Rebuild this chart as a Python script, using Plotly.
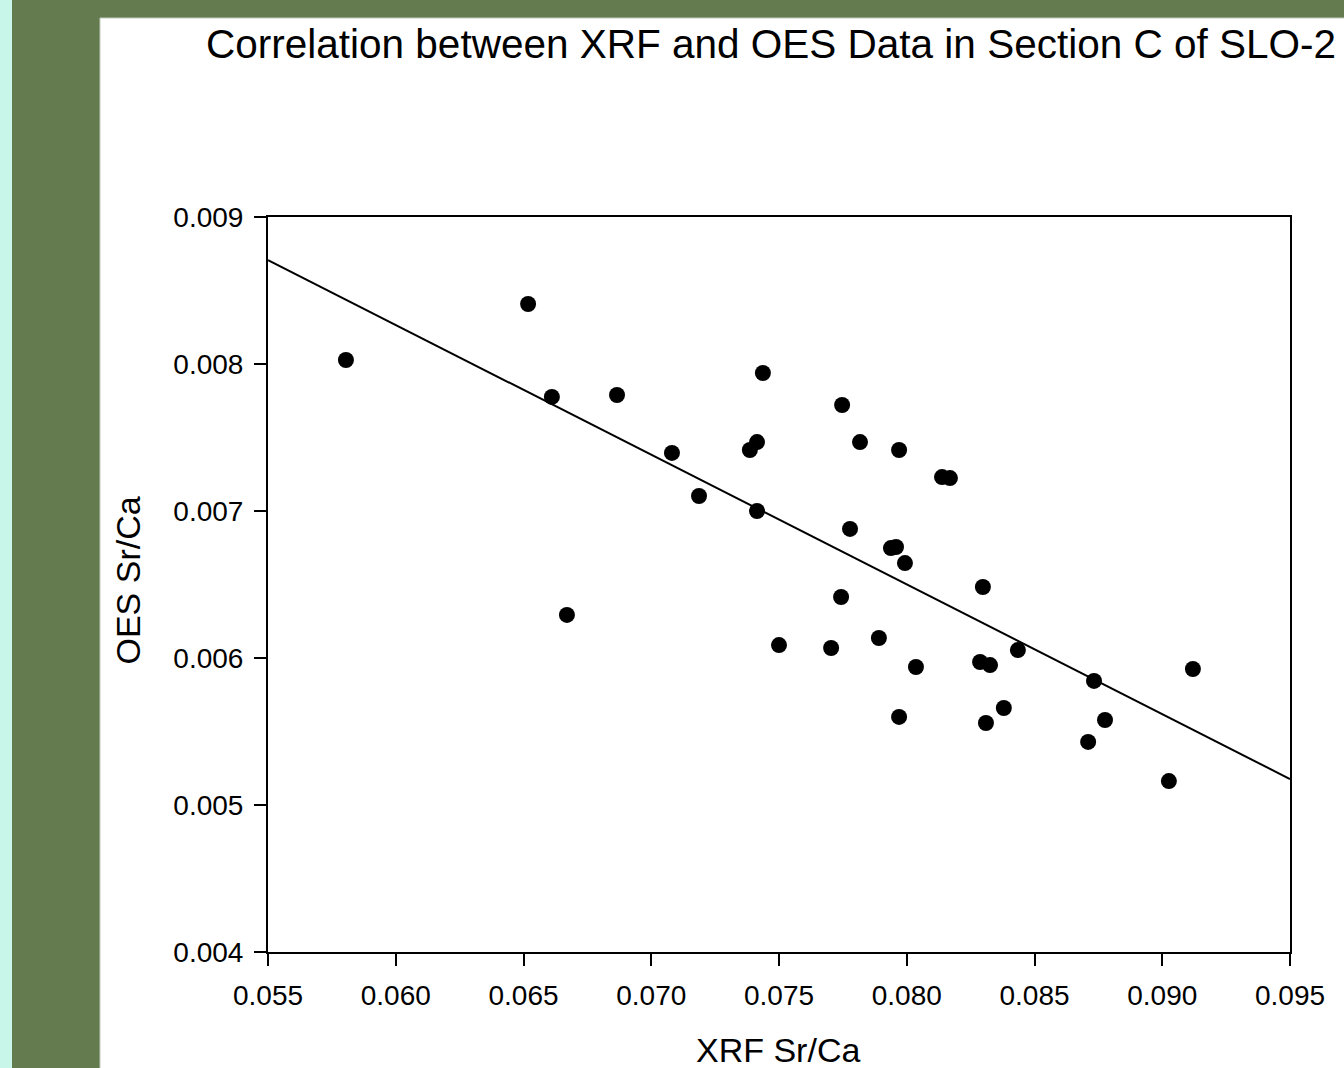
import numpy as np
import plotly.graph_objects as go

title_text = "Correlation between XRF and OES Data in Section C of SLO-2"
x_title = "XRF Sr/Ca"
y_title = "OES Sr/Ca"

xrf_sr_ca = [0.05805, 0.06518, 0.06611, 0.06670, 0.06866, 0.07081, 0.07187,
             0.07386, 0.07414, 0.07437, 0.07414, 0.07500, 0.07704, 0.07747,
             0.07743, 0.07778, 0.07817, 0.07891, 0.07938, 0.07958, 0.07970,
             0.07993, 0.07970, 0.08036, 0.08138, 0.08169, 0.08298, 0.08287,
             0.08326, 0.08310, 0.08380, 0.08435, 0.08710, 0.08733, 0.08776,
             0.09026, 0.09120]
oes_sr_ca = [0.008027, 0.008408, 0.007776, 0.006293, 0.007789, 0.007395, 0.007102,
             0.007415, 0.007469, 0.007939, 0.007000, 0.006088, 0.006068, 0.007721,
             0.006415, 0.006878, 0.007469, 0.006136, 0.006748, 0.006755, 0.007415,
             0.006646, 0.005599, 0.005939, 0.007231, 0.007224, 0.006483, 0.005973,
             0.005952, 0.005558, 0.005660, 0.006054, 0.005429, 0.005844, 0.005578,
             0.005163, 0.005925]

x_range = [0.055, 0.095]
y_range = [0.004, 0.009]
x_ticks = [0.055, 0.060, 0.065, 0.070, 0.075, 0.080, 0.085, 0.090, 0.095]
y_ticks = [0.004, 0.005, 0.006, 0.007, 0.008, 0.009]

slope, intercept = np.polyfit(xrf_sr_ca, oes_sr_ca, 1)
fit_x = np.array(x_range)
fit_y = slope * fit_x + intercept

W, H = 1344, 1068
L, R, T, B = 268, 1290, 217, 952

def px(xp):
    return (xp - L) / (R - L)

def py(yp):
    return (B - yp) / (B - T)

FONT = "Arial, Liberation Sans, sans-serif"

fig = go.Figure()
fig.add_trace(go.Scatter(x=fit_x, y=fit_y, mode="lines",
                         line=dict(color="black", width=2), showlegend=False,
                         hoverinfo="skip"))
fig.add_trace(go.Scatter(x=xrf_sr_ca, y=oes_sr_ca, mode="markers",
                         marker=dict(color="black", size=16), showlegend=False))

shapes = [
    dict(type="rect", xref="paper", yref="paper", x0=px(0), x1=px(W), y0=py(H), y1=py(0),
         fillcolor="#647A4F", line=dict(width=0), layer="below"),
    dict(type="rect", xref="paper", yref="paper", x0=px(0), x1=px(12), y0=py(H), y1=py(0),
         fillcolor="#C8F7EA", line=dict(width=0), layer="below"),
    dict(type="rect", xref="paper", yref="paper", x0=px(100), x1=px(W + 5), y0=py(H + 5), y1=py(18),
         fillcolor="white", line=dict(color="#C5CDBE", width=1), layer="below"),
]

annotations = [
    dict(text=title_text, xref="paper", yref="paper", x=px(204), y=py(43.5),
         xanchor="left", yanchor="middle", showarrow=False,
         font=dict(family=FONT, size=40.5, color="black")),
    dict(text=x_title, xref="paper", yref="paper", x=px(778), y=py(1050),
         xanchor="center", yanchor="middle", showarrow=False,
         font=dict(family=FONT, size=34, color="black")),
    dict(text=y_title, xref="paper", yref="paper", x=px(127.5), y=py(581),
         xanchor="center", yanchor="middle", showarrow=False, textangle=-90,
         font=dict(family=FONT, size=34, color="black")),
]

axis_common = dict(showline=True, linecolor="black", linewidth=2, mirror=True,
                   showgrid=False, zeroline=False, ticks="outside", ticklen=12,
                   tickwidth=2, tickcolor="black", tickformat=".3f",
                   tickfont=dict(family=FONT, size=28, color="black"))

fig.update_layout(
    width=W, height=H,
    margin=dict(l=L, r=W - R, t=T, b=H - B, pad=0),
    paper_bgcolor="#647A4F", plot_bgcolor="white",
    shapes=shapes, annotations=annotations,
    xaxis=dict(range=x_range, tickvals=x_ticks, ticklabelstandoff=5, **axis_common),
    yaxis=dict(range=y_range, tickvals=y_ticks, ticklabelstandoff=5, **axis_common),
)

fig.write_html("out.html", config={"displayModeBar": False},
               post_script="document.body.style.margin='0px';document.body.style.overflow='hidden';")
